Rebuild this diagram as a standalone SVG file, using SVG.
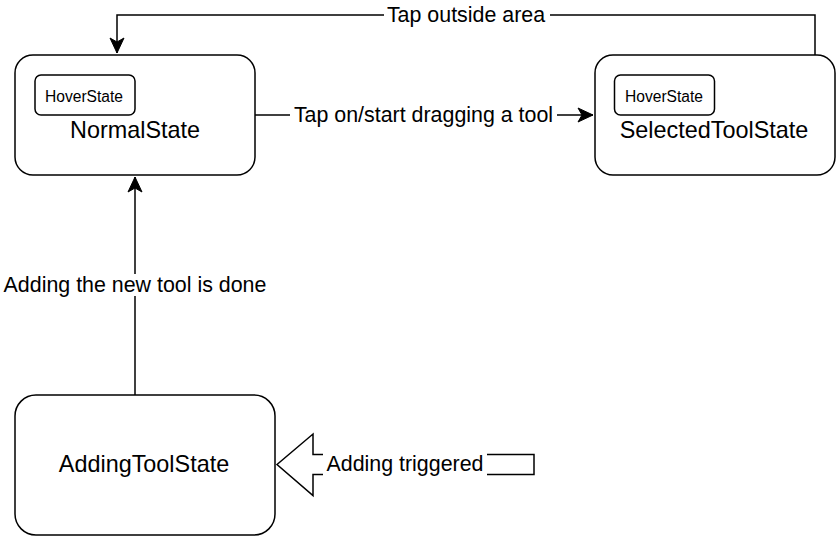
<svg xmlns="http://www.w3.org/2000/svg" width="838" height="536" viewBox="0 0 838 536">
<defs>
<style>
.box{fill:#fff;stroke:#000;stroke-width:1.5}
.edge{fill:none;stroke:#000;stroke-width:1.5}
.t{font-family:"Liberation Sans",Arial,Helvetica,sans-serif;fill:#000;text-anchor:middle}
.node{font-size:23.4px}
.lbl{font-size:21.4px}
.hov{font-size:15.6px}
</style>
<marker id="arr" markerUnits="userSpaceOnUse" viewBox="-16 -8 18 16" refX="0" refY="0" markerWidth="18" markerHeight="16" orient="auto">
<path d="M0,0 L-15,-7 L-11,0 L-15,7 Z" fill="#000" stroke="#000" stroke-width="1"/>
</marker>
</defs>
<rect width="838" height="536" fill="#fff"/>
<g id="connectors">
<path class="edge" d="M815,55 V15 H117 V53" marker-end="url(#arr)"/>
<rect x="384" y="4" width="166" height="22" fill="#fff"/>
<text class="t lbl" x="466" y="22">Tap outside area</text>
<path class="edge" d="M255,115 H593" marker-end="url(#arr)"/>
<rect x="290" y="104" width="267" height="22" fill="#fff"/>
<text class="t lbl" x="423.5" y="122">Tap on/start dragging a tool</text>
<path class="edge" d="M135,395 V177" marker-end="url(#arr)"/>
<rect x="0" y="274" width="272" height="22" fill="#fff"/>
<text class="t lbl" x="135" y="292">Adding the new tool is done</text>
<polygon class="edge" points="277,464.5 313,434 313,454.5 534,454.5 534,474.5 313,474.5 313,495.5" style="fill:#fff"/>
<rect x="323" y="452.5" width="164" height="24" fill="#fff"/>
<text class="t lbl" x="405" y="471">Adding triggered</text>
</g>
<g id="NormalState">
<rect class="box" x="15" y="55" width="240" height="120" rx="18"/>
<text class="t node" x="135" y="138">NormalState</text>
</g>
<g id="NormalHoverState">
<rect class="box" x="35" y="75" width="100" height="40" rx="6"/>
<text class="t hov" x="84" y="102">HoverState</text>
</g>
<g id="SelectedToolState">
<rect class="box" x="595" y="55" width="240" height="120" rx="18"/>
<text class="t node" x="714" y="138">SelectedToolState</text>
</g>
<g id="SelectedHoverState">
<rect class="box" x="614.5" y="75" width="100" height="40" rx="6"/>
<text class="t hov" x="664" y="102">HoverState</text>
</g>
<g id="AddingToolState">
<rect class="box" x="15" y="395" width="260" height="140" rx="21"/>
<text class="t node" x="144" y="472">AddingToolState</text>
</g>
</svg>
